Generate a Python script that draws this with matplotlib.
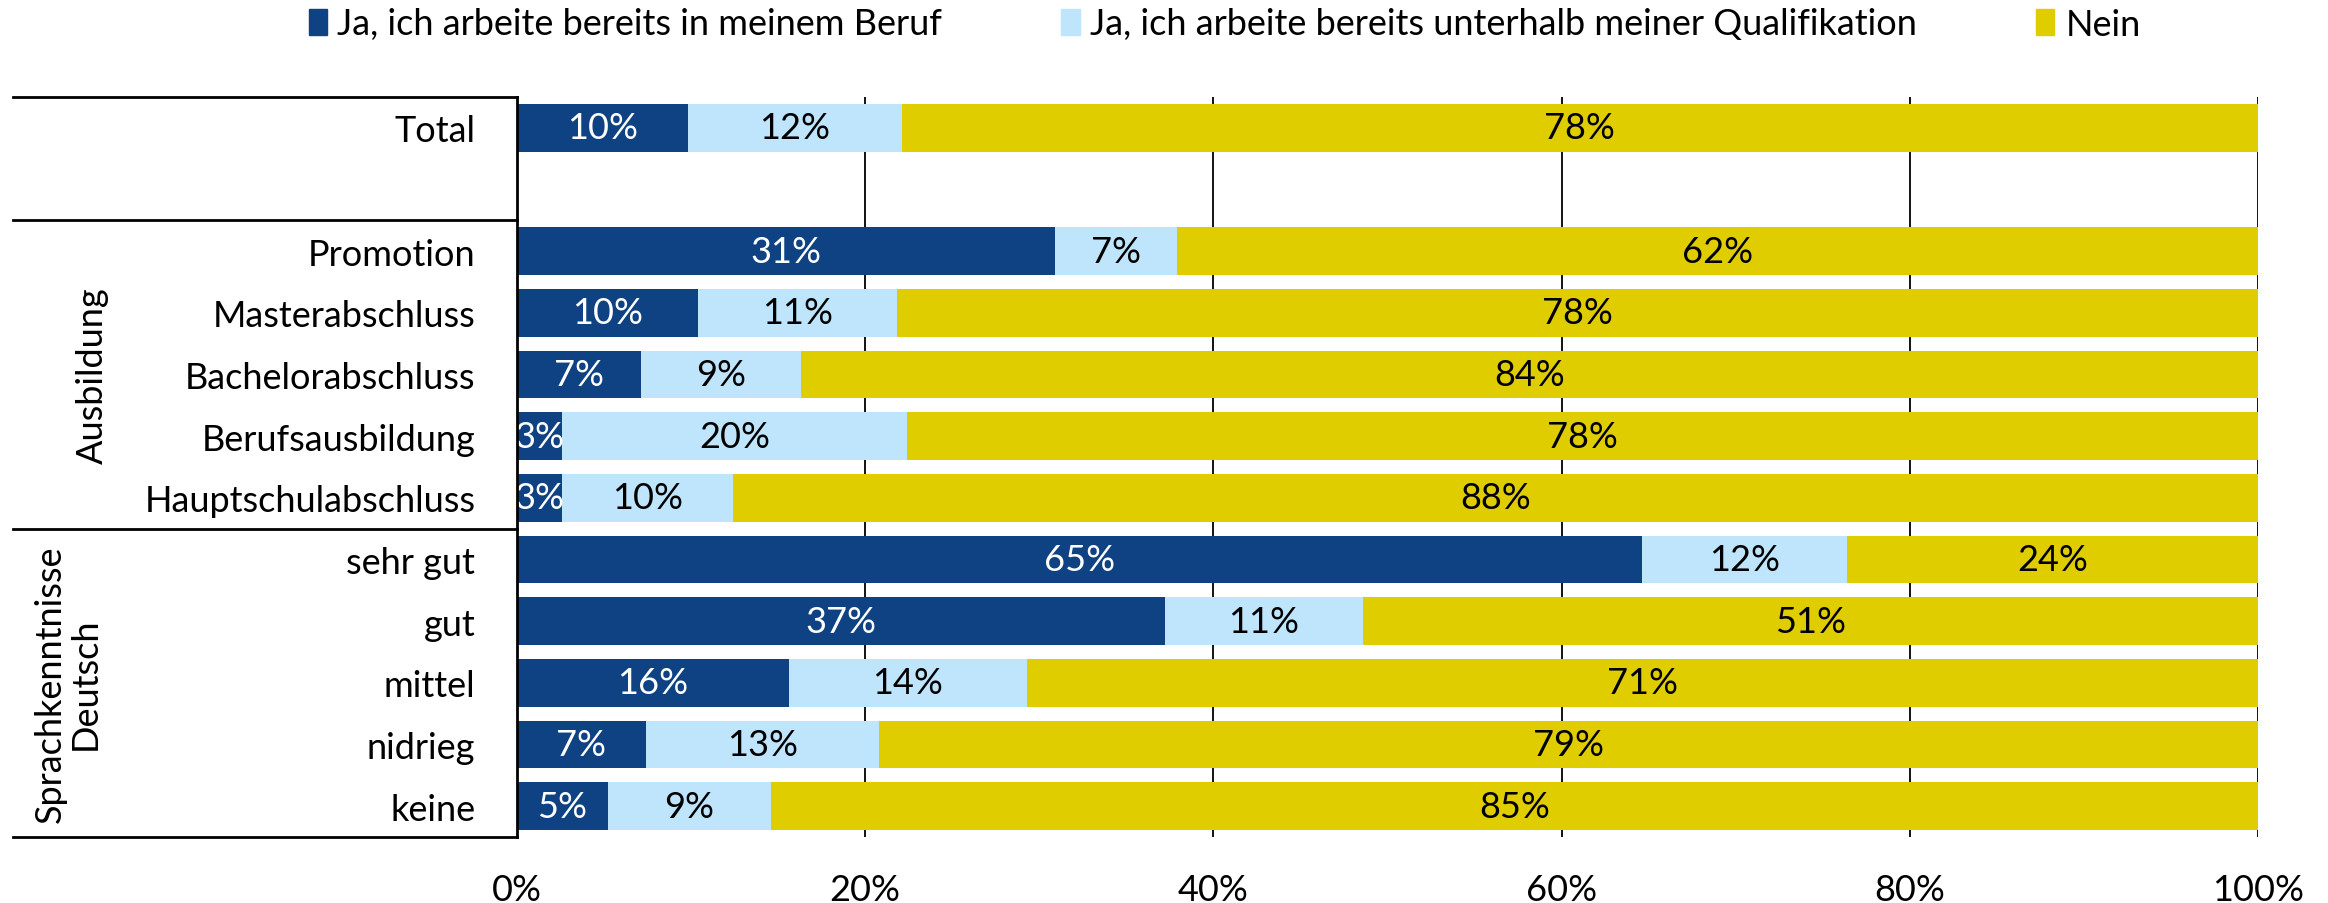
import numpy as np
import matplotlib
matplotlib.use("Agg")
import matplotlib.pyplot as plt
from matplotlib.patches import Patch

plt.rcParams['font.family'] = ['Lato', 'DejaVu Sans']

# Daten (Anteile in %)
kategorien = ["Total", "", "Promotion", "Masterabschluss", "Bachelorabschluss",
              "Berufsausbildung", "Hauptschulabschluss",
              "sehr gut", "gut", "mittel", "nidrieg", "keine"]
ja_beruf = [9.8, np.nan, 30.9, 10.4, 7.1, 2.6, 2.6, 64.6, 37.2, 15.6, 7.4, 5.2]
ja_unterhalb = [12.3, np.nan, 7.0, 11.4, 9.2, 19.8, 9.8, 11.8, 11.4, 13.7, 13.4, 9.4]
nein = [77.9, np.nan, 62.1, 78.2, 83.7, 77.6, 87.6, 23.6, 51.4, 70.7, 79.2, 85.4]

serien = ["Ja, ich arbeite bereits in meinem Beruf",
          "Ja, ich arbeite bereits unterhalb meiner Qualifikation",
          "Nein"]
farben = ["#0F4283", "#BEE5FB", "#E0CD00"]
textfarben = ["white", "black", "black"]
gruppen = ["Ausbildung", "Sprachkenntnisse\nDeutsch"]

fs = 26

fig = plt.figure(figsize=(23.28, 9.04), dpi=100)
ax = fig.add_axes([517/2328, 1-838/904, (2258-517)/2328, (838-98)/904])

y = np.arange(len(kategorien))
links = np.zeros(len(kategorien))
for werte, farbe, tf in zip([ja_beruf, ja_unterhalb, nein], farben, textfarben):
    w = np.array(werte, dtype=float)
    ax.barh(y, np.nan_to_num(w), left=links, height=0.77, color=farbe, zorder=3)
    for yi, (l, v) in enumerate(zip(links, w)):
        if not np.isnan(v):
            ax.text(l + v/2, yi, f"{v:.0f}%", ha='center', va='center',
                    color=tf, fontsize=fs, zorder=4)
    links = links + np.nan_to_num(w)

ax.set_xlim(0, 100)
ax.set_ylim(len(kategorien)-0.5, -0.5)
ax.set_xticks(np.arange(0, 101, 20))
ax.set_xticklabels([f"{t}%" for t in range(0, 101, 20)], fontsize=fs)
ax.set_yticks(y)
ax.set_yticklabels(kategorien, fontsize=fs)
ax.tick_params(axis='x', length=0, pad=26)
ax.tick_params(axis='y', length=0, pad=30)
ax.grid(axis='x', color='black', linewidth=1.3, zorder=0)
for s in ['top', 'right', 'bottom']:
    ax.spines[s].set_visible(False)
ax.spines['left'].set_linewidth(2)
ax.spines['left'].set_zorder(5)

# Tabellenlinien links
x0 = (13-517)/(2258-517)
for yl in [-0.5, 1.5, 6.5, 11.5]:
    ax.plot([x0, 0], [yl, yl], color='black', linewidth=2,
            transform=ax.get_yaxis_transform(), clip_on=False)

# Gruppenbeschriftungen
ax.text((92-517)/(2258-517), 4, gruppen[0], rotation=90, ha='center', va='center',
        fontsize=fs, transform=ax.get_yaxis_transform())
ax.text((68-517)/(2258-517), 9, gruppen[1], rotation=90, ha='center', va='center',
        fontsize=fs, linespacing=1.05, transform=ax.get_yaxis_transform())

handles = [Patch(color=c) for c in farben]
fig.legend(handles, serien, loc='center', bbox_to_anchor=(0.526, 1-25/904), ncol=3,
           frameon=False, fontsize=fs, handlelength=0.5, handleheight=0.7,
           handletextpad=0.3, columnspacing=3.3)

plt.savefig('out.png', dpi=100)
